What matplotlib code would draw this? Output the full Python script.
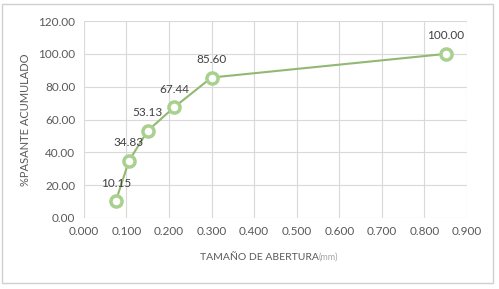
import matplotlib
matplotlib.use('Agg')
import matplotlib.pyplot as plt
from matplotlib.patches import Rectangle

plt.rcParams['font.family'] = ['Lato', 'DejaVu Sans']

# datos de la curva granulométrica
abertura_mm = [0.075, 0.106, 0.150, 0.212, 0.300, 0.850]
pasante = [10.15, 34.83, 53.13, 67.44, 85.60, 100.00]

x_ticks = [0.0, 0.1, 0.2, 0.3, 0.4, 0.5, 0.6, 0.7, 0.8, 0.9]
y_ticks = [0, 20, 40, 60, 80, 100, 120]

gris = '#595959'
verde_linea = '#93b874'
verde_marca = '#a9d18e'

fig = plt.figure(figsize=(4.99, 2.89), dpi=100)
fig.patches.append(Rectangle((0.004, 0.02), 0.984, 0.965, transform=fig.transFigure,
                             fill=False, edgecolor='#d0d0d0', linewidth=1))
ax = fig.add_axes([0.168, 0.246, 0.768, 0.681])

ax.plot(abertura_mm, pasante, color=verde_linea, linewidth=1.5, marker='o',
        markersize=8, markerfacecolor='white', markeredgecolor=verde_marca,
        markeredgewidth=2.5, zorder=3)

for x, y in zip(abertura_mm, pasante):
    ax.annotate(f'{y:.2f}', (x, y), xytext=(0, 9), textcoords='offset points',
                ha='center', va='bottom', fontsize=8.5, color='#404040')

ax.set_xlim(0, 0.9)
ax.set_ylim(0, 120)
ax.set_xticks(x_ticks)
ax.set_yticks(y_ticks)
ax.set_xticklabels([f'{v:.3f}' for v in x_ticks])
ax.set_yticklabels([f'{v:.2f}' for v in y_ticks])
ax.tick_params(length=0, labelsize=8.5, colors=gris, pad=6)
ax.grid(True, color='#d9d9d9', linewidth=0.8)
ax.set_axisbelow(True)
for s in ax.spines.values():
    s.set_visible(False)

ax.set_ylabel('%PASANTE ACUMULADO', fontsize=8, color=gris, labelpad=5)

t = fig.text(0.401, 0.11, 'TAMAÑO DE ABERTURA', fontsize=7.5, color=gris,
             ha='left', va='center')
ax.annotate('(mm)', xy=(1, 0), xycoords=t, va='bottom', ha='left',
            fontsize=6.5, color='#a6a6a6')

fig.savefig('out.png', dpi=100)
